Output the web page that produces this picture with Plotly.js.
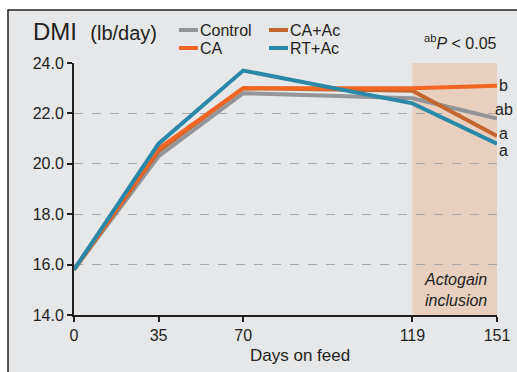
<!DOCTYPE html>
<html>
<head>
<meta charset="utf-8">
<script src="https://cdn.plot.ly/plotly-3.0.1.min.js"></script>
<style>html,body{margin:0;padding:0;background:#fff;}#chart{width:517px;height:372px;}</style>
</head>
<body>
<div id="chart"></div>
<script>
// ---- data ----
var days = ['0', '35', '70', '119', '151'];
var dayPos = [0, 1, 2, 4, 5];            // display slot of each sampling day
var control = [15.8, 20.3, 22.8, 22.6, 21.8];
var ca      = [15.8, 20.6, 23.0, 23.0, 23.1];
var caAc    = [15.8, 20.5, 23.0, 22.9, 21.1];
var rtAc    = [15.8, 20.8, 23.7, 22.4, 20.8];
var sigLetters = ['ab', 'b', 'a', 'a'];
var yTicks = [14, 16, 18, 20, 22, 24];

var colors = {Control: '#939598', CA: '#f26522', 'CA+Ac': '#c4662f', 'RT+Ac': '#2a89a8'};
var FONT = 'Liberation Sans Narrow, Arial Narrow, Liberation Sans, Arial, sans-serif';
var ink = '#231f20';

// plot geometry (pixels)
var L = 74, R = 20, T = 63, B = 57, Wd = 517, Ht = 372;
var PW = Wd - L - R, PH = Ht - T - B;
function px(x) { return (x - L) / PW; }
function py(y) { return 1 - (y - T) / PH; }

function tr(name, ys) {
  return {
    x: dayPos, y: ys, type: 'scatter', mode: 'lines', name: name,
    line: {color: colors[name], width: 4}, showlegend: false, hoverinfo: 'skip'
  };
}
// draw order: Control, CA+Ac, CA, RT+Ac (last on top)
var data = [tr('Control', control), tr('CA+Ac', caAc), tr('CA', ca), tr('RT+Ac', rtAc)];

var shapes = [
  {type: 'rect', xref: 'paper', yref: 'paper', x0: px(8), x1: px(530), y0: py(385), y1: py(10),
   fillcolor: '#e6e7e8', line: {color: ink, width: 1.5}, layer: 'below'},
  {type: 'rect', xref: 'x', yref: 'y', x0: dayPos[3], x1: dayPos[4] + 0.01, y0: 14, y1: 24,
   fillcolor: '#e8cfbe', line: {width: 0}, layer: 'below'}
];

var annotations = [
  {xref: 'paper', yref: 'paper', x: px(31), y: py(31), xanchor: 'left', yanchor: 'middle',
   text: 'DMI&nbsp; <span style="font-size:20px">(lb/day)</span>', showarrow: false,
   font: {family: FONT, size: 24, color: ink}},
  {xref: 'paper', yref: 'paper', x: px(499), y: py(42), xanchor: 'right', yanchor: 'middle',
   text: '<sup>ab</sup><i>P</i> < 0.05', showarrow: false,
   font: {family: FONT, size: 16, color: ink}},
  {xref: 'paper', yref: 'paper', x: px(455), y: py(290), xanchor: 'center', yanchor: 'middle',
   text: '<i>Actogain</i><br><i>inclusion</i>', showarrow: false,
   font: {family: FONT, size: 16, color: ink}},
  {xref: 'paper', yref: 'paper', x: px(300), y: py(355), xanchor: 'center', yanchor: 'middle',
   text: 'Days on feed', showarrow: false,
   font: {family: FONT, size: 17, color: ink}}
];

// significance letters at the end of each line
var finals = [control[4], ca[4], caAc[4], rtAc[4]];
var letterShift = [9, 0, 3, -7];
for (var i = 0; i < 4; i++) {
  annotations.push({xref: 'paper', yref: 'y', x: px(504), y: finals[i], yshift: letterShift[i],
    xanchor: 'center', yanchor: 'middle', text: sigLetters[i], showarrow: false,
    font: {family: FONT, size: 16, color: ink}});
}

// custom legend
var legendItems = [
  {name: 'Control', sx: 179, y: 30},
  {name: 'CA', sx: 179, y: 48},
  {name: 'CA+Ac', sx: 269, y: 30},
  {name: 'RT+Ac', sx: 269, y: 48}
];
legendItems.forEach(function (it) {
  shapes.push({type: 'line', xref: 'paper', yref: 'paper', x0: px(it.sx), x1: px(it.sx + 19),
    y0: py(it.y), y1: py(it.y), line: {color: colors[it.name], width: 4}});
  annotations.push({xref: 'paper', yref: 'paper', x: px(it.sx + 19), y: py(it.y), xanchor: 'left',
    yanchor: 'middle', text: it.name, showarrow: false, font: {family: FONT, size: 16, color: ink}});
});

var layout = {
  width: Wd, height: Ht,
  margin: {l: L, r: R, t: T, b: B, pad: 0},
  paper_bgcolor: '#ffffff', plot_bgcolor: 'rgba(0,0,0,0)',
  showlegend: false,
  xaxis: {
    range: [0, 5], tickvals: dayPos, ticktext: days, showgrid: false, zeroline: false,
    showline: true, linecolor: ink, linewidth: 2, ticks: 'outside', ticklen: 5, tickwidth: 2,
    tickcolor: ink, tickfont: {family: FONT, size: 16, color: ink}, fixedrange: true
  },
  yaxis: {
    range: [14, 24], tickvals: yTicks, tickformat: '.1f', showgrid: true, gridcolor: '#a7a9ac',
    griddash: 'dash', gridwidth: 1, zeroline: false,
    showline: true, linecolor: ink, linewidth: 2, ticks: 'outside', ticklen: 5, tickwidth: 2,
    tickcolor: ink, tickfont: {family: FONT, size: 16, color: ink}, fixedrange: true
  },
  shapes: shapes,
  annotations: annotations
};

Plotly.newPlot('chart', data, layout, {displayModeBar: false, staticPlot: true});
</script>
</body>
</html>
